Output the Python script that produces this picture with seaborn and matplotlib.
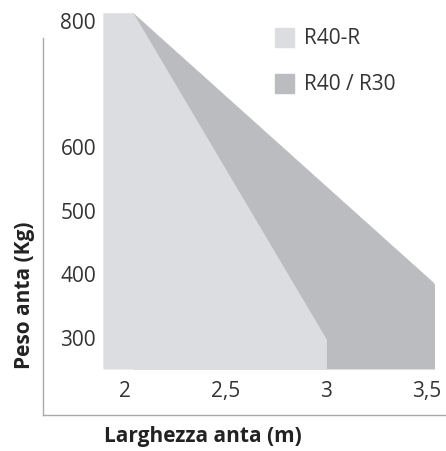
import matplotlib
matplotlib.use("Agg")
import matplotlib.pyplot as plt
from matplotlib.patches import Rectangle
import seaborn as sns

# Operating ranges: door-leaf width (m) vs. maximum leaf weight (kg)
r40r_width = [1.89, 2.04, 3.0]
r40r_weight = [810, 810, 296]
r40_r30_width = [2.04, 3.54]
r40_r30_weight = [810, 383]
base_weight = 249

series_names = ["R40-R", "R40 / R30"]
series_colors = ["#dcdde0", "#bbbcc0"]

x_ticks = [2, 2.5, 3, 3.5]
x_tick_labels = ["2", "2,5", "3", "3,5"]
y_ticks = [300, 400, 500, 600, 800]
y_tick_labels = ["300", "400", "500", "600", "800"]

sns.set_theme(style="white")
plt.rcParams["font.family"] = ["Open Sans", "DejaVu Sans"]

W, H = 446, 452
fig = plt.figure(figsize=(W / 100, H / 100), dpi=100)

# frame axes carrying only the offset left/bottom axis lines
frame = fig.add_axes([43 / W, (H - 416) / H, (W - 43) / W, 377 / H])
frame.set_xticks([])
frame.set_yticks([])
frame.patch.set_alpha(0)
for side in ["top", "right"]:
    frame.spines[side].set_visible(False)
for side in ["left", "bottom"]:
    frame.spines[side].set_color("#a9a9a9")
    frame.spines[side].set_linewidth(1.0)

# data axes
ax = fig.add_axes([103 / W, (H - 370) / H, 331 / W, 356 / H])
ax.patch.set_alpha(0)

ax.fill_between(r40_r30_width, r40_r30_weight, base_weight,
                color=series_colors[1], lw=0)
sns.lineplot(x=r40_r30_width, y=r40_r30_weight, color=series_colors[1],
             lw=0.6, ax=ax)
ax.fill_between(r40r_width, r40r_weight, base_weight,
                color=series_colors[0], lw=0)
sns.lineplot(x=r40r_width, y=r40r_weight, color=series_colors[0],
             lw=0.6, ax=ax)
ax.vlines(r40r_width[-1], base_weight, r40r_weight[-1],
          color=series_colors[0], lw=0.6)

ax.set_xlim(1.8905, 3.537)
ax.set_ylim(base_weight, 810.5)
ax.set_xticks(x_ticks, x_tick_labels)
ax.set_yticks(y_ticks, y_tick_labels)
ax.tick_params(axis="both", length=0, labelsize=15, colors="#333333")
ax.tick_params(axis="x", pad=8)
ax.tick_params(axis="y", pad=5)
ax.set_xlabel("")
ax.set_ylabel("")
for s in ax.spines.values():
    s.set_visible(False)

# legend
for i, (name, col) in enumerate(zip(series_names, series_colors)):
    ytop = 29 + i * 46
    fig.patches.append(Rectangle((275 / W, (H - ytop - 19) / H), 19 / W, 19 / H,
                                 transform=fig.transFigure, color=col))
    fig.text(304 / W, (H - ytop - 9.5) / H, name, fontsize=15,
             color="#333333", va="center", ha="left")

fig.text(203 / W, (H - 437) / H, "Larghezza anta (m)", fontsize=15,
         fontweight="bold", color="#222222", ha="center", va="center")
fig.text(25 / W, (H - 295) / H, "Peso anta (Kg)", fontsize=15,
         fontweight="bold", color="#222222", ha="center", va="center",
         rotation=90)

fig.savefig("out.png", dpi=100)
